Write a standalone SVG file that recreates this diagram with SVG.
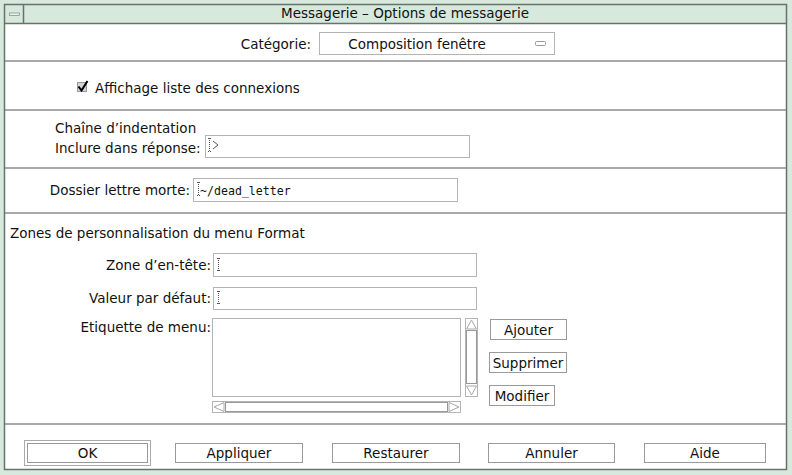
<svg xmlns="http://www.w3.org/2000/svg" width="792" height="475" viewBox="0 0 792 475">
<defs>
<style>
text{font-family:"DejaVu Sans","Liberation Sans",sans-serif;font-size:13.5px;fill:#111}
.mono{font-family:"DejaVu Sans Mono","Liberation Mono",monospace;font-size:11.6px}
.c{text-anchor:middle}
.r{text-anchor:end}
.sep{stroke:#8c8c8c;stroke-width:1.5;fill:none}
.fld{fill:#fff;stroke:#b4b4b4;stroke-width:1}
.btn{fill:#fff;stroke:#9a9a9a;stroke-width:1}
.dark{stroke:#66736c;fill:none}
.cur{stroke:#555;stroke-width:1;stroke-dasharray:1 1;fill:none}
.sb{fill:#fff;stroke:#b4b4b4;stroke-width:1}
.arr{fill:#fff;stroke:#a8a8a8;stroke-width:1}
</style>
</defs>
<g id="frame">
<rect x="0" y="0" width="792" height="475" fill="#d7e8dc"/>
<rect x="5" y="24" width="781" height="445" fill="#fff"/>
<rect x="4.5" y="4.5" width="782" height="465" class="dark" stroke-width="1.5"/>
<line x1="5" y1="23.5" x2="786" y2="23.5" class="dark" stroke-width="1.5"/>
<line x1="23.5" y1="5" x2="23.5" y2="23" class="dark" stroke-width="1.5"/>
<rect x="9.5" y="13" width="10" height="2.5" fill="#e8f2ea" stroke="#8a978f" stroke-width="0.8"/>
<text x="405" y="18" class="c">Messagerie – Options de messagerie</text>
</g>
<g id="categorie">
<text x="311" y="49" class="r">Catégorie:</text>
<rect x="319.5" y="32.5" width="235" height="22" class="fld"/>
<text x="417" y="49" class="c">Composition fenêtre</text>
<rect x="535.5" y="41.5" width="10" height="4" rx="1" fill="#fff" stroke="#999" stroke-width="1"/>
</g>
<g id="separators">
<line x1="5" y1="61" x2="786" y2="61" class="sep"/>
<line x1="5" y1="110" x2="786" y2="110" class="sep"/>
<line x1="5" y1="168" x2="786" y2="168" class="sep"/>
<line x1="5" y1="213" x2="786" y2="213" class="sep"/>
<line x1="5" y1="424" x2="786" y2="424" class="sep"/>
</g>
<g id="affichage">
<rect x="77.5" y="82.5" width="9" height="9" fill="#d4d4d4" stroke="#999" stroke-width="1"/>
<path d="M78.5 86.5 L81.5 90.5 L87.5 81" fill="none" stroke="#000" stroke-width="2"/>
<text x="95" y="93">Affichage liste des connexions</text>
</g>
<g id="indentation">
<text x="55" y="133">Chaîne d’indentation</text>
<text x="55" y="153">Inclure dans réponse:</text>
<rect x="205.5" y="135.5" width="264" height="22" class="fld"/>
<path d="M209.5 138 V152 M208 138.5 H211 M208 151.5 H211" class="cur"/>
<path d="M213 141 L218 145 L213 149" fill="none" stroke="#555" stroke-width="1"/>
</g>
<g id="dossier">
<text x="190" y="195" class="r">Dossier lettre morte:</text>
<rect x="193.5" y="178.5" width="264" height="23" class="fld"/>
<path d="M198.5 182 V196 M197 182.5 H200 M197 195.5 H200" class="cur"/>
<text x="200" y="195" class="mono">~/dead_letter</text>
</g>
<g id="zones">
<text x="10" y="238">Zones de personnalisation du menu Format</text>
</g>
<g id="entete">
<text x="211" y="270" class="r">Zone d’en-tête:</text>
<rect x="213.5" y="253.5" width="263" height="23" class="fld"/>
<path d="M218.5 258 V271 M217 258.5 H220 M217 270.5 H220" class="cur"/>
</g>
<g id="valeur">
<text x="211" y="303" class="r">Valeur par défaut:</text>
<rect x="213.5" y="287.5" width="263" height="22" class="fld"/>
<path d="M218.5 291 V304 M217 291.5 H220 M217 303.5 H220" class="cur"/>
</g>
<g id="etiquette">
<text x="211" y="332" class="r">Etiquette de menu:</text>
<rect x="212.5" y="318.5" width="248" height="78" class="fld"/>
<rect x="465.5" y="318.5" width="12" height="78" class="sb"/>
<polygon points="471.5,320 476.5,329 466.5,329" class="arr"/>
<rect x="466.5" y="330.5" width="10" height="53" fill="#fff" stroke="#999"/>
<polygon points="466.5,386 476.5,386 471.5,395" class="arr"/>
<rect x="212.5" y="401.5" width="248" height="11" class="sb"/>
<polygon points="214,407 224,402.5 224,411.5" class="arr"/>
<rect x="225.5" y="402.5" width="222" height="9" fill="#fff" stroke="#999"/>
<polygon points="449,402.5 459,407 449,411.5" class="arr"/>
</g>
<g id="ajouter">
<rect x="490.5" y="319.5" width="76" height="20" class="btn"/>
<text x="528.5" y="335" class="c">Ajouter</text>
</g>
<g id="supprimer">
<rect x="489.5" y="352.5" width="77" height="20" class="btn"/>
<text x="528" y="368" class="c">Supprimer</text>
</g>
<g id="modifier">
<rect x="489.5" y="385.5" width="65" height="20" class="btn"/>
<text x="522" y="401" class="c">Modifier</text>
</g>
<g id="ok">
<rect x="24.5" y="440.5" width="126" height="25" fill="#fff" stroke="#aaa"/>
<rect x="27.5" y="443.5" width="120" height="19" class="btn"/>
<text x="87.5" y="458" class="c">OK</text>
</g>
<g id="appliquer">
<rect x="175.5" y="443.5" width="127" height="19" class="btn"/>
<text x="239" y="458" class="c">Appliquer</text>
</g>
<g id="restaurer">
<rect x="332.5" y="443.5" width="127" height="19" class="btn"/>
<text x="396" y="458" class="c">Restaurer</text>
</g>
<g id="annuler">
<rect x="488.5" y="443.5" width="126" height="19" class="btn"/>
<text x="551.5" y="458" class="c">Annuler</text>
</g>
<g id="aide">
<rect x="644.5" y="443.5" width="121" height="19" class="btn"/>
<text x="705" y="458" class="c">Aide</text>
</g>
<g id="connectors"/>
</svg>
